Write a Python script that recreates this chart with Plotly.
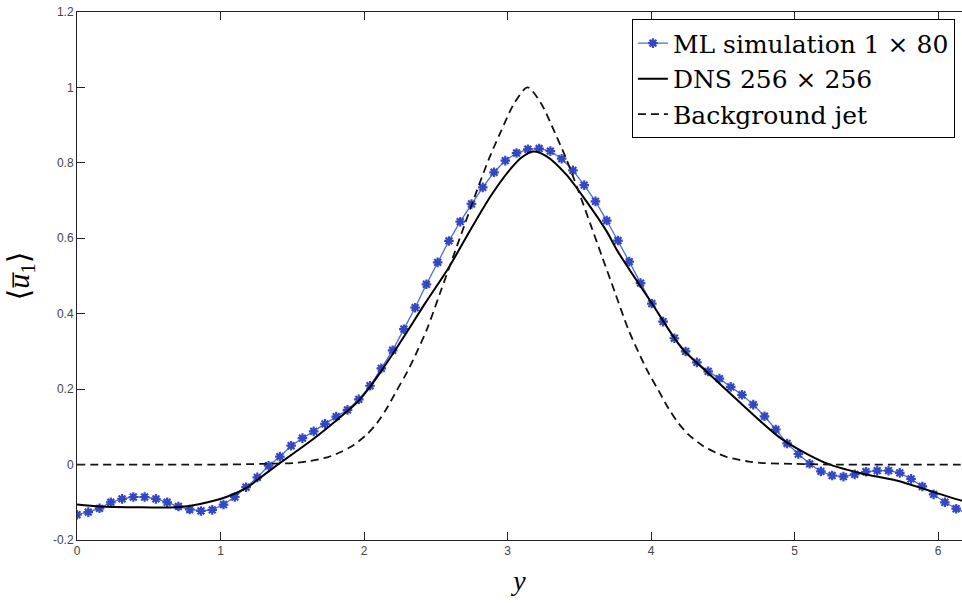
import math
import plotly.graph_objects as go

# ---- data ----
ml_y = [-0.133, -0.126, -0.116, -0.100, -0.091, -0.086, -0.086, -0.091, -0.100, -0.111,
        -0.119, -0.123, -0.120, -0.106, -0.086, -0.060, -0.034, -0.003, 0.021, 0.050,
        0.070, 0.088, 0.108, 0.127, 0.145, 0.173, 0.209, 0.255, 0.303, 0.359,
        0.416, 0.478, 0.536, 0.593, 0.644, 0.691, 0.735, 0.775, 0.806, 0.826,
        0.836, 0.838, 0.831, 0.811, 0.780, 0.741, 0.698, 0.647, 0.594, 0.538,
        0.481, 0.427, 0.379, 0.335, 0.300, 0.271, 0.247, 0.228, 0.206, 0.185,
        0.159, 0.128, 0.093, 0.056, 0.028, 0.002, -0.018, -0.029, -0.032, -0.026,
        -0.019, -0.016, -0.016, -0.022, -0.038, -0.058, -0.079, -0.100, -0.117, -0.130]
ml_x = [i * 2 * math.pi / len(ml_y) for i in range(len(ml_y))]

dns_x = [0.0, 0.16, 0.4, 0.69, 0.85, 1.04, 1.18, 1.28, 1.4, 1.51, 1.63, 1.75, 1.86, 1.96,
         2.04, 2.12, 2.2, 2.3, 2.43, 2.59, 2.75, 2.89, 3.03, 3.1, 3.18, 3.27, 3.41, 3.55,
         3.69, 3.77, 4.01, 4.22, 4.38, 4.61, 4.91, 5.21, 5.46, 5.71, 5.94, 6.14, 6.283]
dns_y = [-0.106, -0.111, -0.113, -0.113, -0.105, -0.086, -0.062, -0.034, 0.0, 0.030, 0.063,
         0.099, 0.134, 0.168, 0.205, 0.248, 0.293, 0.352, 0.430, 0.522, 0.628, 0.716, 0.788,
         0.815, 0.830, 0.818, 0.769, 0.698, 0.619, 0.564, 0.425, 0.306, 0.249, 0.168, 0.068,
         0.005, -0.023, -0.042, -0.069, -0.093, -0.106]

jet_x = [0.0, 1.0, 1.3, 1.5, 1.6, 1.75, 1.83, 1.92, 2.02, 2.09, 2.16, 2.23, 2.30, 2.37,
         2.44, 2.53, 2.62, 2.70, 2.79, 2.87, 2.95, 3.05, 3.14,
         3.23, 3.33, 3.41, 3.49, 3.58, 3.66, 3.75, 3.84, 3.91, 3.98, 4.05, 4.12, 4.19,
         4.26, 4.36, 4.45, 4.53, 4.68, 4.78, 4.98, 5.3, 6.283]
jet_y = [0.0, 0.0, 0.002, 0.004, 0.008, 0.020, 0.032, 0.050, 0.080, 0.110, 0.150, 0.198,
         0.245, 0.300, 0.360, 0.455, 0.550, 0.635, 0.730, 0.810, 0.880, 0.960, 1.000,
         0.960, 0.880, 0.810, 0.730, 0.635, 0.550, 0.455, 0.360, 0.300, 0.245, 0.198,
         0.150, 0.110, 0.080, 0.050, 0.032, 0.020, 0.008, 0.004, 0.002, 0.0, 0.0]

x_ticks = [0, 1, 2, 3, 4, 5, 6]
y_ticks = [-0.2, 0, 0.2, 0.4, 0.6, 0.8, 1, 1.2]
y_tick_labels = ["-0.2", "0", "0.2", "0.4", "0.6", "0.8", "1", "1.2"]

serif = "DejaVu Serif, Liberation Serif, serif"
serif2 = "Liberation Serif, DejaVu Serif, serif"
sans = "Liberation Sans, Arial, sans-serif"

fig = go.Figure()
fig.add_trace(go.Scatter(
    x=ml_x, y=ml_y, mode="lines+markers", name="ML simulation 1 × 80",
    line=dict(color="#4f6bdc", width=1.3),
    marker=dict(symbol="asterisk-open", size=8, color="#3347c4",
                line=dict(color="#3347c4", width=2.2)),
))
fig.add_trace(go.Scatter(
    x=dns_x, y=dns_y, mode="lines", name="DNS 256 × 256",
    line=dict(color="black", width=2, shape="spline", smoothing=0.8),
))
fig.add_trace(go.Scatter(
    x=jet_x, y=jet_y, mode="lines", name="Background jet",
    line=dict(color="#111111", width=1.8, dash="8px,5px", shape="spline", smoothing=0.8),
))

fig.update_layout(
    width=962, height=603,
    margin=dict(l=77, r=0, t=12, b=63),
    paper_bgcolor="white", plot_bgcolor="white",
    showlegend=True,
    legend=dict(
        x=0.992, y=0.986, xanchor="right", yanchor="top",
        bgcolor="white", bordercolor="black", borderwidth=1,
        font=dict(family=serif, size=25, color="black"),
        tracegroupgap=0, itemwidth=30,
    ),
    xaxis=dict(
        range=[0, 6.167], tickvals=x_ticks, ticks="inside", ticklen=8,
        tickcolor="#222", showline=True, linecolor="#222", linewidth=1,
        mirror="allticks", showgrid=False, zeroline=False,
        tickfont=dict(family=sans, size=12, color="#444"),
        ticklabeloverflow="allow",
        title=dict(text="<i>y</i>", font=dict(family=serif2, size=28, color="black"),
                   standoff=12),
    ),
    yaxis=dict(
        range=[-0.2, 1.2], tickvals=y_ticks, ticktext=y_tick_labels, ticks="inside",
        ticklen=8, tickcolor="#222", showline=True, linecolor="#222", linewidth=1,
        mirror=False, showgrid=False, zeroline=False,
        tickfont=dict(family=sans, size=12, color="#444"),
        ticklabeloverflow="allow",
        title=dict(text="⟨<i>u̅</i><sub>1</sub>⟩", font=dict(family=serif2, size=30, color="black"),
                   standoff=14),
    ),
)

fig.write_html("out.html", config={"displayModeBar": False},
               post_script="document.body.style.margin='0';")
